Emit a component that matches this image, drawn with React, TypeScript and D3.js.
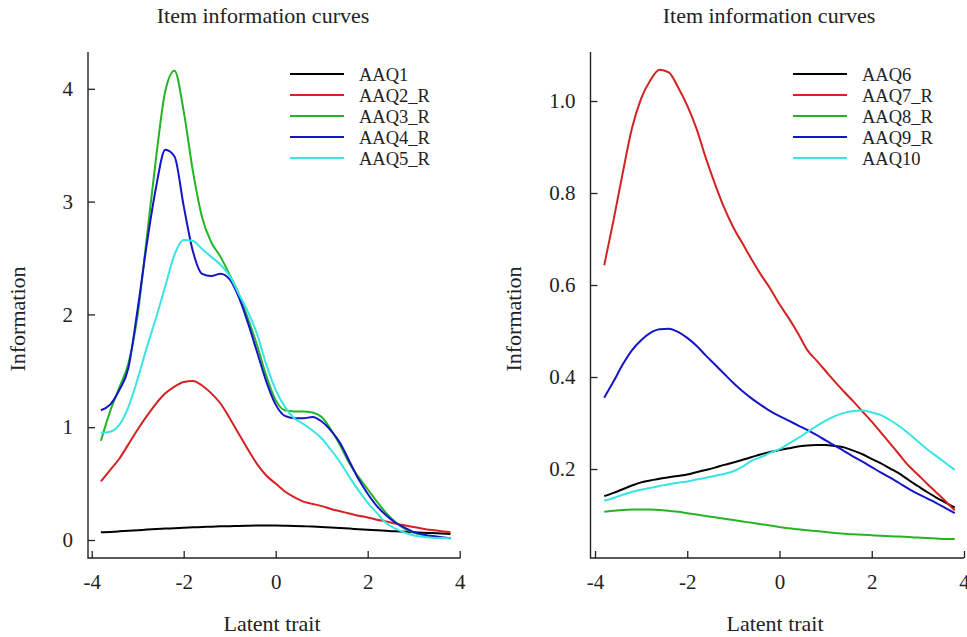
import React, { useEffect, useRef } from 'react';
import * as d3 from 'd3';

// latent trait grid shared by every curve
const theta = [
  -3.8, -3.6, -3.4, -3.2, -3.0, -2.8, -2.6, -2.4, -2.2, -2.0, -1.8, -1.6, -1.4, -1.2, -1.0, -0.8, -0.6, -0.4, -0.2, 0,
  0.2, 0.4, 0.6, 0.8, 1.0, 1.2, 1.4, 1.6, 1.8, 2.0, 2.2, 2.4, 2.6, 2.8, 3.0, 3.2, 3.4, 3.6, 3.8,
];

// left panel
const aaq1 = [0.068, 0.072, 0.077, 0.082, 0.087, 0.092, 0.097, 0.101, 0.105, 0.109, 0.112, 0.115, 0.118, 0.121, 0.123, 0.125, 0.127, 0.128, 0.128, 0.128,
  0.127, 0.125, 0.122, 0.119, 0.115, 0.111, 0.106, 0.101, 0.096, 0.091, 0.086, 0.081, 0.077, 0.073, 0.069, 0.065, 0.061, 0.057, 0.053];
const aaq2 = [0.52, 0.62, 0.72, 0.85, 0.98, 1.10, 1.21, 1.30, 1.36, 1.40, 1.41, 1.37, 1.30, 1.21, 1.08, 0.94, 0.80, 0.67, 0.57, 0.50,
  0.43, 0.38, 0.34, 0.32, 0.30, 0.275, 0.255, 0.235, 0.215, 0.20, 0.18, 0.165, 0.145, 0.13, 0.115, 0.10, 0.088, 0.078, 0.068];
const aaq3 = [0.88, 1.14, 1.35, 1.57, 2.0, 2.69, 3.39, 3.98, 4.16, 3.80, 3.27, 2.86, 2.64, 2.51, 2.35, 2.18, 1.96, 1.72, 1.45, 1.24,
  1.15, 1.14, 1.14, 1.13, 1.09, 0.98, 0.84, 0.68, 0.56, 0.45, 0.34, 0.24, 0.16, 0.10, 0.065, 0.045, 0.03, 0.02, 0.015];
const aaq4 = [1.15, 1.2, 1.33, 1.53, 2.05, 2.63, 3.13, 3.46, 3.40, 2.96, 2.56, 2.36, 2.34, 2.36, 2.31, 2.15, 1.92, 1.66, 1.40, 1.20,
  1.10, 1.08, 1.08, 1.09, 1.05, 0.97, 0.86, 0.70, 0.54, 0.41, 0.30, 0.22, 0.155, 0.11, 0.07, 0.05, 0.035, 0.025, 0.015];
const aaq5 = [0.95, 0.96, 1.02, 1.18, 1.43, 1.71, 1.97, 2.25, 2.53, 2.66, 2.65, 2.58, 2.51, 2.44, 2.34, 2.18, 2.02, 1.82, 1.55, 1.33,
  1.18, 1.08, 1.03, 0.97, 0.90, 0.80, 0.69, 0.56, 0.44, 0.33, 0.24, 0.15, 0.10, 0.066, 0.04, 0.028, 0.021, 0.017, 0.015];

// right panel
const aaq6 = [0.141, 0.148, 0.156, 0.164, 0.171, 0.175, 0.179, 0.182, 0.185, 0.188, 0.193, 0.198, 0.203, 0.209, 0.214, 0.22, 0.226, 0.232, 0.237, 0.241,
  0.245, 0.249, 0.251, 0.252, 0.252, 0.25, 0.247, 0.24, 0.232, 0.222, 0.212, 0.201, 0.19, 0.176, 0.163, 0.15, 0.138, 0.127, 0.116];
const aaq7 = [0.643, 0.74, 0.843, 0.94, 1.005, 1.045, 1.068, 1.062, 1.03, 0.99, 0.94, 0.877, 0.82, 0.768, 0.725, 0.69, 0.655, 0.622, 0.592, 0.558,
  0.528, 0.495, 0.459, 0.436, 0.413, 0.39, 0.368, 0.347, 0.325, 0.303, 0.279, 0.255, 0.231, 0.207, 0.188, 0.168, 0.149, 0.13, 0.11];
const aaq8 = [0.107, 0.109, 0.111, 0.112, 0.112, 0.112, 0.111, 0.109, 0.107, 0.104, 0.101, 0.098, 0.095, 0.092, 0.089, 0.086, 0.083, 0.08, 0.077, 0.074,
  0.071, 0.069, 0.067, 0.065, 0.063, 0.061, 0.059, 0.058, 0.057, 0.056, 0.055, 0.054, 0.053, 0.052, 0.051, 0.05, 0.049, 0.048, 0.048];
const aaq9 = [0.355, 0.39, 0.427, 0.458, 0.48, 0.496, 0.504, 0.505, 0.498, 0.485, 0.468, 0.447, 0.427, 0.407, 0.387, 0.369, 0.353, 0.339, 0.326, 0.315,
  0.305, 0.295, 0.285, 0.274, 0.262, 0.251, 0.239, 0.227, 0.216, 0.204, 0.192, 0.181, 0.169, 0.157, 0.146, 0.136, 0.126, 0.115, 0.104];
const aaq10 = [0.131, 0.137, 0.144, 0.15, 0.155, 0.159, 0.163, 0.167, 0.17, 0.173, 0.177, 0.181, 0.185, 0.189, 0.195, 0.205, 0.218, 0.226, 0.235, 0.243,
  0.255, 0.267, 0.28, 0.293, 0.305, 0.315, 0.322, 0.326, 0.327, 0.323, 0.317, 0.306, 0.293, 0.277, 0.26, 0.243, 0.228, 0.213, 0.198];

const leftNames = ['AAQ1', 'AAQ2_R', 'AAQ3_R', 'AAQ4_R', 'AAQ5_R'];
const rightNames = ['AAQ6', 'AAQ7_R', 'AAQ8_R', 'AAQ9_R', 'AAQ10'];
const xTicks = [-4, -2, 0, 2, 4];
const leftYTicks = [0, 1, 2, 3, 4];
const rightYTicks = [0.2, 0.4, 0.6, 0.8, 1.0];

const colors = ['#000000', '#d42222', '#24b424', '#1414c8', '#38e4e4'];
const font = '"Liberation Serif", "Times New Roman", serif';

const App = () => {
  const svgRef = useRef<SVGSVGElement>(null);

  useEffect(() => {
    const svg = d3.select(svgRef.current);
    svg.selectAll('*').remove();

    const panels = [
      {
        names: leftNames,
        series: [aaq1, aaq2, aaq3, aaq4, aaq5],
        yTicks: leftYTicks,
        yFmt: (d: number) => String(d),
        x: d3.scaleLinear().domain([-4, 4]).range([91.7, 459.7]),
        y: d3.scaleLinear().domain([0, 4]).range([540, 88.8]),
        axisX: 88,
        axisEnd: 460.3,
        legendX: 290,
        ylabX: 25,
        titleX: 263,
        xlabX: 272,
      },
      {
        names: rightNames,
        series: [aaq6, aaq7, aaq8, aaq9, aaq10],
        yTicks: rightYTicks,
        yFmt: (d: number) => d.toFixed(1),
        x: d3.scaleLinear().domain([-4, 4]).range([595, 964]),
        y: d3.scaleLinear().domain([0.2, 1.0]).range([469, 101]),
        axisX: 590.5,
        axisEnd: 964,
        legendX: 793,
        ylabX: 521,
        titleX: 769,
        xlabX: 775,
      },
    ];

    const top = 52;
    const bottom = 558;

    panels.forEach((p) => {
      const g = svg.append('g');

      // title
      g.append('text')
        .attr('x', p.titleX)
        .attr('y', 23)
        .attr('text-anchor', 'middle')
        .attr('font-family', font)
        .attr('font-size', 22)
        .attr('fill', '#222')
        .text('Item information curves');

      // axis lines (L shaped box)
      g.append('path')
        .attr('d', `M${p.axisX},${top}V${bottom}H${p.axisEnd}`)
        .attr('fill', 'none')
        .attr('stroke', '#222')
        .attr('stroke-width', 1.4);

      // y ticks pointing inward
      const yAxis = g.append('g')
        .attr('transform', `translate(${p.axisX},0)`)
        .call(d3.axisLeft(p.y).tickValues(p.yTicks).tickFormat(p.yFmt as any).tickSize(-7).tickPadding(15));
      yAxis.select('.domain').remove();
      yAxis.selectAll('line').attr('stroke', '#222').attr('stroke-width', 1.3);
      yAxis.selectAll('text').attr('font-family', font).attr('font-size', 21).attr('fill', '#222');

      // x ticks pointing inward, hyphen minus as in the original
      const xAxis = g.append('g')
        .attr('transform', `translate(0,${bottom})`)
        .call(d3.axisBottom(p.x).tickValues(xTicks).tickFormat(((d: number) => String(d)) as any).tickSize(-7).tickPadding(16));
      xAxis.select('.domain').remove();
      xAxis.selectAll('line').attr('stroke', '#222').attr('stroke-width', 1.3);
      xAxis.selectAll('text').attr('font-family', font).attr('font-size', 21).attr('fill', '#222');

      // axis titles
      g.append('text')
        .attr('x', p.xlabX)
        .attr('y', 631)
        .attr('text-anchor', 'middle')
        .attr('font-family', font)
        .attr('font-size', 22)
        .attr('fill', '#222')
        .text('Latent trait');

      g.append('text')
        .attr('transform', `translate(${p.ylabX},319) rotate(-90)`)
        .attr('text-anchor', 'middle')
        .attr('font-family', font)
        .attr('font-size', 22)
        .attr('fill', '#222')
        .text('Information');

      // curves
      const line = d3
        .line<number>()
        .x((_, i) => p.x(theta[i]))
        .y((d) => p.y(d))
        .curve(d3.curveMonotoneX);

      p.series.forEach((s, i) => {
        g.append('path')
          .attr('d', line(s))
          .attr('fill', 'none')
          .attr('stroke', colors[i])
          .attr('stroke-width', 2)
          .attr('stroke-linejoin', 'round');
      });

      // legend
      p.names.forEach((name, i) => {
        const ly = 74 + i * 21;
        g.append('line')
          .attr('x1', p.legendX)
          .attr('x2', p.legendX + 54)
          .attr('y1', ly)
          .attr('y2', ly)
          .attr('stroke', colors[i])
          .attr('stroke-width', 2.2);
        g.append('text')
          .attr('x', p.legendX + 69)
          .attr('y', ly + 6.5)
          .attr('font-family', font)
          .attr('font-size', 18.5)
          .attr('fill', '#222')
          .text(name);
      });
    });
  }, []);

  return (
    <svg
      ref={svgRef}
      width={967}
      height={637}
      style={{ position: 'absolute', left: 0, top: 0, background: '#fff' }}
    />
  );
};

export default App;
